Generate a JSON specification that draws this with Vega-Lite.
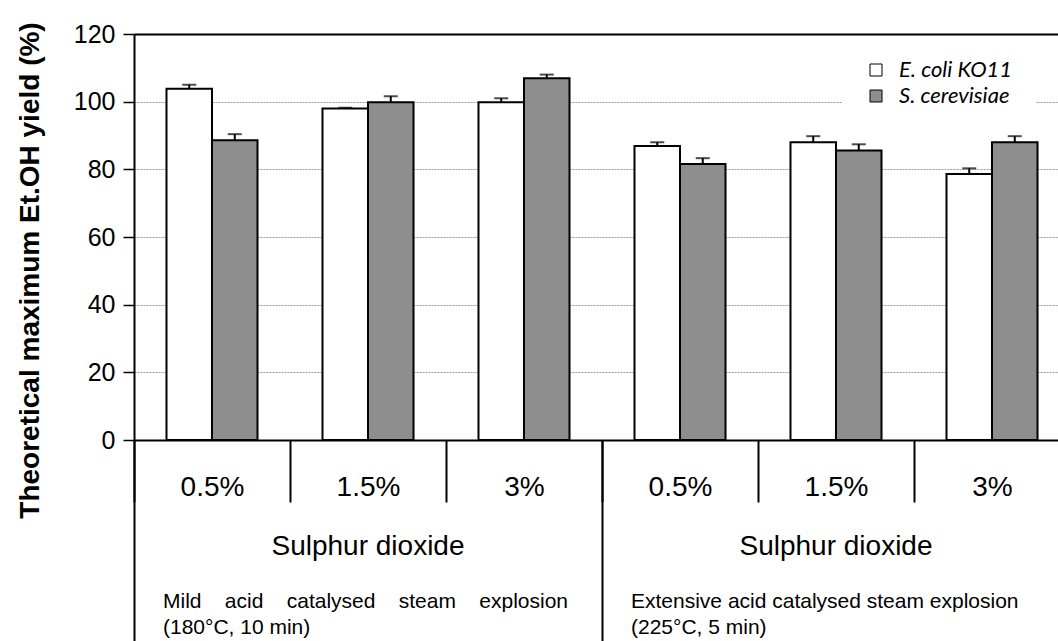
{
  "$schema": "https://vega.github.io/schema/vega-lite/v6.json",
  "width": 924,
  "height": 406,
  "autosize": {"type": "none"},
  "padding": {"left": 134, "top": 34, "right": 0, "bottom": 201},
  "background": "white",
  "config": {"view": {"stroke": null}, "font": "Liberation Sans"},
  "data": {
    "values": [
      {"group": "Mild 0.5%", "strain": "E. coli KO11", "value": 103.8, "hi": 105.0},
      {"group": "Mild 0.5%", "strain": "S. cerevisiae", "value": 88.6, "hi": 90.4},
      {"group": "Mild 1.5%", "strain": "E. coli KO11", "value": 98.0, "hi": 98.2},
      {"group": "Mild 1.5%", "strain": "S. cerevisiae", "value": 99.8, "hi": 101.6},
      {"group": "Mild 3%", "strain": "E. coli KO11", "value": 99.8, "hi": 101.0},
      {"group": "Mild 3%", "strain": "S. cerevisiae", "value": 106.9, "hi": 108.0},
      {"group": "Extensive 0.5%", "strain": "E. coli KO11", "value": 86.9, "hi": 88.0},
      {"group": "Extensive 0.5%", "strain": "S. cerevisiae", "value": 81.6, "hi": 83.3},
      {"group": "Extensive 1.5%", "strain": "E. coli KO11", "value": 88.0, "hi": 89.8},
      {"group": "Extensive 1.5%", "strain": "S. cerevisiae", "value": 85.6, "hi": 87.4},
      {"group": "Extensive 3%", "strain": "E. coli KO11", "value": 78.6, "hi": 80.3},
      {"group": "Extensive 3%", "strain": "S. cerevisiae", "value": 88.0, "hi": 89.8}
    ]
  },
  "layer": [
    {
      "mark": {"type": "bar", "stroke": "black", "strokeWidth": 2},
      "encoding": {
        "x": {
          "field": "group", "type": "nominal",
          "scale": {"type": "band", "domain": ["Mild 0.5%", "Mild 1.5%", "Mild 3%", "Extensive 0.5%", "Extensive 1.5%", "Extensive 3%"], "range": [0, 936], "paddingInner": 0, "paddingOuter": 0},
          "axis": {
            "title": null, "orient": "bottom",
            "labelExpr": "split(datum.value, ' ')[1]",
            "labelFontSize": 28, "labelColor": "black", "labelPadding": -29,
            "labelAngle": 0, "labelOverlap": false, "labelFlush": false,
            "tickBand": "extent", "tickSize": 62, "tickWidth": 2, "tickColor": "black",
            "domainColor": "black", "domainWidth": 2
          }
        },
        "xOffset": {"field": "strain", "type": "nominal", "scale": {"domain": ["E. coli KO11", "S. cerevisiae"], "paddingOuter": 0.714, "paddingInner": 0}},
        "y": {
          "field": "value", "type": "quantitative",
          "scale": {"domain": [0, 120], "nice": false, "zero": true},
          "axis": {
            "values": [0, 20, 40, 60, 80, 100, 120],
            "title": "Theoretical maximum Et.OH yield (%)",
            "titleFont": "Liberation Sans", "titleFontSize": 28, "titleFontWeight": "bold", "titleColor": "black", "titlePadding": 29, "titleY": 236,
            "labelFontSize": 25, "labelColor": "black", "labelPadding": 8,
            "tickSize": 11, "tickWidth": 1.5, "tickColor": "black",
            "domainColor": "black", "domainWidth": 2,
            "grid": true,
            "gridColor": {"condition": {"test": "datum.value === 120", "value": "black"}, "value": "#9a9a9a"},
            "gridDash": {"condition": {"test": "datum.value === 120", "value": []}, "value": [2, 1]},
            "gridWidth": {"condition": {"test": "datum.value === 120", "value": 2}, "value": 1}
          }
        },
        "fill": {
          "field": "strain", "type": "nominal",
          "scale": {"domain": ["E. coli KO11", "S. cerevisiae"], "range": ["white", "#8e8e8e"]},
          "legend": {
            "orient": "none", "legendX": 708, "legendY": 2, "title": null,
            "fillColor": "white", "padding": 23,
            "symbolType": "square", "symbolSize": 144, "symbolStrokeColor": "black", "symbolStrokeWidth": 1,
            "labelFont": "Lato", "labelFontSize": 22, "labelFontStyle": "italic", "labelColor": "black",
            "labelOffset": 12, "rowPadding": 4, "labelLimit": 300
          }
        }
      }
    },
    {
      "mark": {"type": "rule", "stroke": "black", "strokeWidth": 2},
      "encoding": {
        "x": {
          "field": "group", "type": "nominal",
          "scale": {"type": "band", "domain": ["Mild 0.5%", "Mild 1.5%", "Mild 3%", "Extensive 0.5%", "Extensive 1.5%", "Extensive 3%"], "range": [0, 936], "paddingInner": 0, "paddingOuter": 0},
          "axis": {
            "title": null, "orient": "bottom",
            "values": ["Mild 0.5%", "Extensive 0.5%"], "bandPosition": 0,
            "tickSize": 201, "tickWidth": 2, "tickColor": "black", "domain": false,
            "labelExpr": "datum.value === 'Mild 0.5%' ? ['Mild \u00a0\u00a0\u00a0acid \u00a0\u00a0\u00a0catalysed \u00a0\u00a0\u00a0steam \u00a0\u00a0\u00a0explosion', '(180°C, 10 min)'] : ['Extensive acid catalysed steam explosion', '(225°C, 5 min)']",
            "labelAlign": "left", "labelBaseline": "top", "labelOffset": -49,
            "labelFontSize": 21, "labelLineHeight": 26, "labelPadding": -51,
            "labelLimit": 700, "labelAngle": 0, "labelOverlap": false, "labelFlush": false, "labelColor": "black"
          }
        },
        "xOffset": {"field": "strain", "type": "nominal", "scale": {"domain": ["E. coli KO11", "S. cerevisiae"], "paddingOuter": 0.714, "paddingInner": 0}},
        "y": {"field": "value", "type": "quantitative"},
        "y2": {"field": "hi"}
      }
    },
    {
      "mark": {"type": "tick", "color": "black", "size": 14, "thickness": 2},
      "encoding": {
        "x": {
          "field": "group", "type": "nominal",
          "scale": {"type": "band", "domain": ["Mild 0.5%", "Mild 1.5%", "Mild 3%", "Extensive 0.5%", "Extensive 1.5%", "Extensive 3%"], "range": [0, 936], "paddingInner": 0, "paddingOuter": 0},
          "axis": {
            "title": null, "orient": "bottom",
            "values": ["Mild 1.5%", "Extensive 1.5%"],
            "ticks": false, "domain": false,
            "labelExpr": "'Sulphur dioxide'",
            "labelFontSize": 28, "labelPadding": 92, "labelAngle": 0, "labelLimit": 500,
            "labelOverlap": false, "labelFlush": false, "labelColor": "black"
          }
        },
        "xOffset": {"field": "strain", "type": "nominal", "scale": {"domain": ["E. coli KO11", "S. cerevisiae"], "paddingOuter": 0.714, "paddingInner": 0}},
        "y": {"field": "hi", "type": "quantitative"}
      }
    }
  ],
  "resolve": {"axis": {"x": "independent"}}
}
